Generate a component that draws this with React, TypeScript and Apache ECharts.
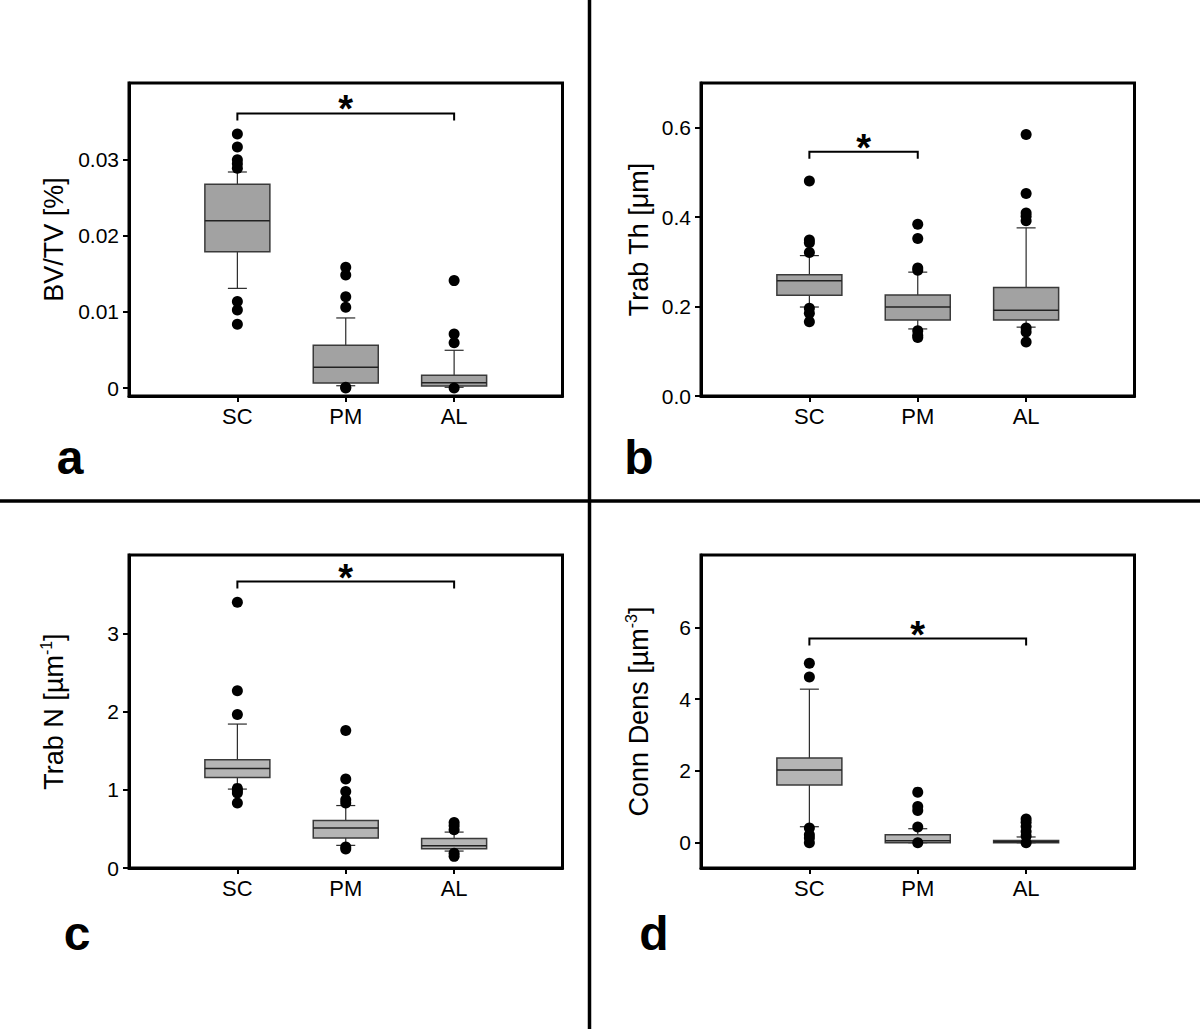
import React, { useEffect, useRef } from "react";
import * as echarts from "echarts";

const categories = ["SC", "PM", "AL"];

// [min whisker, Q1, median, Q3, max whisker] per category
const boxA = [
  [0.0131, 0.0179, 0.022, 0.0268, 0.0284],
  [0.0003, 0.00066, 0.00272, 0.00561, 0.00921],
  [0.0001, 0.00026, 0.0007, 0.00167, 0.00496],
];
const outA = [
  [0.0334, 0.0317, 0.03, 0.0295, 0.0289, 0.01136, 0.01026, 0.00838],
  [0.01588, 0.01487, 0.012, 0.01061, 0.0001, 0.0],
  [0.01412, 0.0071, 0.00596, 0.0],
];
const boxB = [
  [0.199, 0.2255, 0.2576, 0.271, 0.314],
  [0.15, 0.17, 0.199, 0.226, 0.277],
  [0.154, 0.17, 0.192, 0.2426, 0.376],
];
const outB = [
  [0.481, 0.349, 0.343, 0.321, 0.196, 0.185, 0.166],
  [0.384, 0.352, 0.286, 0.281, 0.146, 0.136, 0.131],
  [0.585, 0.453, 0.409, 0.402, 0.392, 0.152, 0.143, 0.121],
];
const boxC = [
  [1.011, 1.16, 1.276, 1.387, 1.844],
  [0.29, 0.384, 0.512, 0.61, 0.8],
  [0.217, 0.247, 0.286, 0.379, 0.46],
];
const outC = [
  [3.406, 2.27, 1.967, 1.02, 0.99, 0.96, 0.832],
  [1.762, 1.14, 0.98, 0.875, 0.832, 0.27, 0.243],
  [0.584, 0.541, 0.49, 0.19, 0.149],
];
const boxD = [
  [0.446, 1.61, 2.03, 2.36, 4.28],
  [0, 0, 0.056, 0.22, 0.39],
  [0, 0, 0.03, 0.065, 0.16],
];
const outD = [
  [5.0, 4.62, 0.41, 0.22, 0.13, 0.0],
  [1.41, 1.01, 0.9, 0.44, 0.0],
  [0.66, 0.57, 0.45, 0.31, 0.19, 0.0],
];

const ticksA = [0, 0.01, 0.02, 0.03];
const ticksB = [0, 0.2, 0.4, 0.6];
const ticksC = [0, 1, 2, 3];
const ticksD = [0, 2, 4, 6];

// significance brackets: [from category, to category, y level]
const bracketA = [[1, 3, 0.0361]];
const bracketB = [[1, 2, 0.5465]];
const bracketC = [[1, 3, 3.67]];
const bracketD = [[1, 3, 5.69]];

const FONT = "Liberation Sans, Arial, Helvetica, sans-serif";

const panels = [
  { box: boxA, out: outA, ticks: ticksA, br: bracketA, min: -0.00105, max: 0.0401, name: "BV/TV [%]", gap: 59, fill: "#a2a2a2", fmt: (v: number) => String(+v.toFixed(2)), grid: { left: 129, top: 83 } },
  { box: boxB, out: outB, ticks: ticksB, br: bracketB, min: 0, max: 0.7, name: "Trab Th [μm]", gap: 46, fill: "#a2a2a2", fmt: (v: number) => v.toFixed(1), grid: { left: 701, top: 83 } },
  { box: boxC, out: outC, ticks: ticksC, br: bracketC, min: 0, max: 4.01, name: "Trab N [µm{sup|-1}]", gap: 59, fill: "#b5b5b5", fmt: (v: number) => String(v), grid: { left: 129, top: 555 } },
  { box: boxD, out: outD, ticks: ticksD, br: bracketD, min: -0.705, max: 8.02, name: "Conn Dens [µm{sup|-3}]", gap: 46, fill: "#b5b5b5", fmt: (v: number) => String(v), grid: { left: 701, top: 555 } },
];

const BOX_W = 65;
const CAP_W = 19;

export default function App() {
  const ref = useRef<HTMLDivElement>(null);
  useEffect(() => {
    if (!ref.current) return;
    const chart = echarts.init(ref.current, null, { renderer: "svg" });
    const grids: any[] = [];
    const xAxes: any[] = [];
    const yAxes: any[] = [];
    const series: any[] = [];
    panels.forEach((p, i) => {
      grids.push({
        left: p.grid.left,
        top: p.grid.top,
        width: 433.5,
        height: 313,
        show: true,
        borderColor: "#000",
        borderWidth: 3,
        backgroundColor: "transparent",
      });
      xAxes.push({
        type: "value",
        gridIndex: i,
        min: 0,
        max: 4,
        interval: 1,
        splitLine: { show: false },
        axisLine: { show: true, onZero: false, lineStyle: { color: "#000", width: 3 } },
        axisTick: { show: true, customValues: [1, 2, 3], length: 6, lineStyle: { color: "#000", width: 2 } },
        axisLabel: {
          customValues: [1, 2, 3],
          formatter: (v: number) => categories[Math.round(v) - 1] || "",
          color: "#000",
          fontSize: 22,
          fontFamily: FONT,
          margin: 9,
        },
      });
      yAxes.push({
        type: "value",
        gridIndex: i,
        min: p.min,
        max: p.max,
        splitLine: { show: false },
        axisLine: { show: true, onZero: false, lineStyle: { color: "#000", width: 3 } },
        axisTick: { show: true, customValues: p.ticks, length: 6, lineStyle: { color: "#000", width: 2 } },
        axisLabel: {
          customValues: p.ticks,
          formatter: p.fmt,
          color: "#000",
          fontSize: 21,
          fontFamily: FONT,
          margin: 10,
        },
        name: p.name,
        nameLocation: "middle",
        nameRotate: 90,
        nameGap: p.gap,
        nameTextStyle: {
          color: "#000",
          fontSize: 27,
          fontFamily: FONT,
          lineHeight: 32,
          rich: {
            sup: { fontSize: 16, fontFamily: FONT, color: "#000", verticalAlign: "top", lineHeight: 16 },
          },
        },
      });
      series.push({
        type: "custom",
        xAxisIndex: i,
        yAxisIndex: i,
        data: p.box.map((b, k) => [k + 1, ...b]),
        encode: { x: 0, y: [1, 2, 3, 4, 5] },
        silent: true,
        renderItem: (params: any, api: any) => {
          const x = api.value(0);
          const mn = api.coord([x, api.value(1)]);
          const q1 = api.coord([x, api.value(2)]);
          const md = api.coord([x, api.value(3)]);
          const q3 = api.coord([x, api.value(4)]);
          const mx = api.coord([x, api.value(5)]);
          const cx = mn[0];
          const lineStyle = { stroke: "#2a2a2a", lineWidth: 1.2 };
          return {
            type: "group",
            children: [
              { type: "line", shape: { x1: cx, y1: mx[1], x2: cx, y2: q3[1] }, style: lineStyle },
              { type: "line", shape: { x1: cx, y1: q1[1], x2: cx, y2: mn[1] }, style: lineStyle },
              { type: "line", shape: { x1: cx - CAP_W / 2, y1: mx[1], x2: cx + CAP_W / 2, y2: mx[1] }, style: lineStyle },
              { type: "line", shape: { x1: cx - CAP_W / 2, y1: mn[1], x2: cx + CAP_W / 2, y2: mn[1] }, style: lineStyle },
              {
                type: "rect",
                shape: { x: cx - BOX_W / 2, y: q3[1], width: BOX_W, height: Math.max(q1[1] - q3[1], 1) },
                style: { fill: p.fill, stroke: "#3a3a3a", lineWidth: 1.5 },
              },
              { type: "line", shape: { x1: cx - BOX_W / 2, y1: md[1], x2: cx + BOX_W / 2, y2: md[1] }, style: { stroke: "#222", lineWidth: 1.5 } },
            ],
          };
        },
        z: 2,
      });
      const pts: number[][] = [];
      p.out.forEach((arr, k) => arr.forEach((v) => pts.push([k + 1, v])));
      series.push({
        type: "scatter",
        xAxisIndex: i,
        yAxisIndex: i,
        data: pts,
        symbol: "circle",
        symbolSize: 11,
        itemStyle: { color: "#000", opacity: 1 },
        silent: true,
        z: 3,
      });
      series.push({
        type: "custom",
        xAxisIndex: i,
        yAxisIndex: i,
        data: p.br,
        encode: { x: [0, 1], y: 2 },
        silent: true,
        renderItem: (params: any, api: any) => {
          const a = api.coord([api.value(0), api.value(2)]);
          const b = api.coord([api.value(1), api.value(2)]);
          return {
            type: "group",
            children: [
              {
                type: "polyline",
                shape: { points: [[a[0], a[1] + 7], [a[0], a[1]], [b[0], a[1]], [b[0], a[1] + 7]] },
                style: { stroke: "#000", lineWidth: 2, fill: "none" },
              },
              {
                type: "text",
                x: (a[0] + b[0]) / 2,
                y: a[1] - 4,
                style: { text: "*", fontSize: 38, fontWeight: "bold", fontFamily: FONT, fill: "#000", align: "center", verticalAlign: "middle" },
              },
            ],
          };
        },
        z: 4,
      });
    });

    const letter = (t: string, x: number, y: number) => ({
      type: "text",
      x,
      y,
      style: { text: t, fontSize: 48, fontWeight: "bold", fontFamily: FONT, fill: "#000", align: "center", verticalAlign: "middle" },
    });

    chart.setOption({
      animation: false,
      backgroundColor: "#fff",
      grid: grids,
      xAxis: xAxes,
      yAxis: yAxes,
      series,
      graphic: [
        { type: "line", shape: { x1: 589.5, y1: 0, x2: 589.5, y2: 1029 }, style: { stroke: "#000", lineWidth: 3.5 } },
        { type: "line", shape: { x1: 0, y1: 501, x2: 1200, y2: 501 }, style: { stroke: "#000", lineWidth: 3.5 } },
        letter("a", 70, 457),
        letter("b", 639, 457),
        letter("c", 77, 933),
        letter("d", 654, 933),
      ],
    });
    return () => chart.dispose();
  }, []);
  return <div ref={ref} style={{ position: "fixed", left: 0, top: 0, width: 1200, height: 1029 }} />;
}
